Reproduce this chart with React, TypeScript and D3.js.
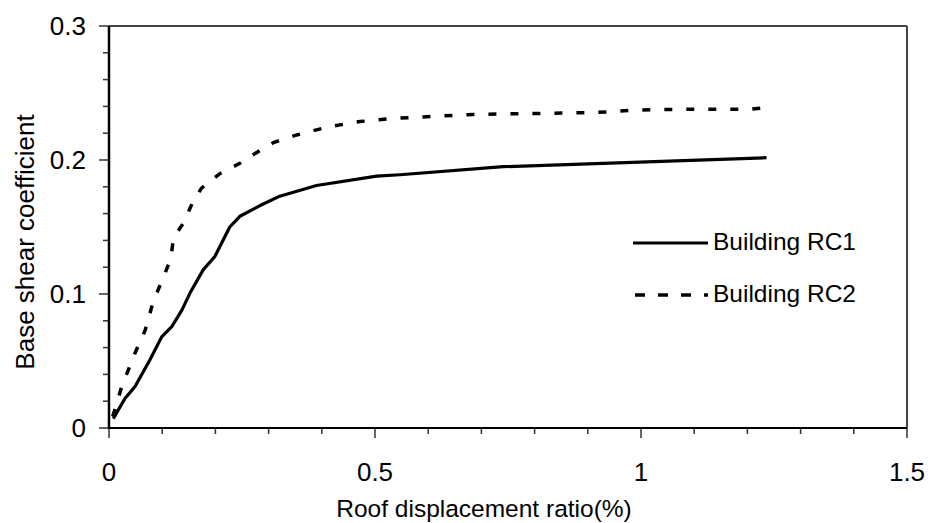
import React from "react";
import * as d3 from "d3";

// pushover curves
const rc1X = [0.008, 0.03, 0.049, 0.077, 0.099, 0.118, 0.137, 0.152, 0.177, 0.199, 0.227, 0.246, 0.284, 0.321, 0.39, 0.503, 0.547, 0.741, 1.236];
const rc1Y = [0.007, 0.022, 0.031, 0.051, 0.068, 0.0756, 0.088, 0.1005, 0.118, 0.128, 0.15, 0.158, 0.166, 0.173, 0.181, 0.188, 0.189, 0.195, 0.2017];

const rc2X = [0.007, 0.024, 0.049, 0.068, 0.083, 0.115, 0.118, 0.121, 0.14, 0.159, 0.174, 0.209, 0.246, 0.271, 0.309, 0.353, 0.415, 0.472, 0.534, 0.597, 0.685, 0.898, 0.942, 0.989, 1.073, 1.205, 1.249];
const rc2Y = [0.0085, 0.031, 0.056, 0.073, 0.094, 0.125, 0.1316, 0.1416, 0.153, 0.17, 0.179, 0.19, 0.1975, 0.204, 0.213, 0.2187, 0.225, 0.2287, 0.231, 0.2323, 0.234, 0.2353, 0.236, 0.2373, 0.2378, 0.2378, 0.2398];

const xMajor = [0, 0.5, 1, 1.5];
const xMajorLabels = ["0", "0.5", "1", "1.5"];
const yMajor = [0, 0.1, 0.2, 0.3];
const yMajorLabels = ["0", "0.1", "0.2", "0.3"];

const seriesNames = ["Building RC1", "Building RC2"];

const W = 928;
const H = 523;
const margin = {top: 26, right: 21, bottom: 95, left: 109};
const font = "Arial, 'Liberation Sans', sans-serif";
const fs = 26;
const fsSmall = 24.5;

const App = () => {
    const x = d3.scaleLinear().domain([0, 1.5]).range([margin.left, W - margin.right]);
    const y = d3.scaleLinear().domain([0, 0.3]).range([H - margin.bottom, margin.top]);

    const line = d3.line<[number, number]>()
        .x(d => x(d[0]))
        .y(d => y(d[1]));

    const rc1 = rc1X.map((v, i) => [v, rc1Y[i]] as [number, number]);
    const rc2 = rc2X.map((v, i) => [v, rc2Y[i]] as [number, number]);

    const xMinor = d3.range(0, 16).map(i => i / 10);
    const yMinor = d3.range(0, 16).map(i => i / 50);

    const x0 = x(0), x1 = x(1.5), y0 = y(0), y1 = y(0.3);

    return (
        <svg width={W} height={H} style={{position: "absolute", left: 0, top: 0, background: "#fff"}}
             fontFamily={font}>
            {/* frame */}
            <line x1={x0} x2={x1} y1={y1} y2={y1} stroke="#444" strokeWidth={2}/>
            <line x1={x1} x2={x1} y1={y1} y2={y0} stroke="#444" strokeWidth={2}/>

            {/* minor/major ticks */}
            {yMinor.map((t, i) => (
                <line key={"ym" + i} x1={x0 - (i % 5 === 0 ? 10 : 6)} x2={x0} y1={y(t)} y2={y(t)}
                      stroke="#333" strokeWidth={1.5}/>
            ))}
            {xMinor.map((t, i) => (
                <line key={"xm" + i} x1={x(t)} x2={x(t)} y1={y0} y2={y0 + (i % 5 === 0 ? 10 : 6)}
                      stroke="#333" strokeWidth={1.5}/>
            ))}

            {/* axes */}
            <line x1={x0} x2={x0} y1={y1} y2={y0 + 1} stroke="#000" strokeWidth={2.5}/>
            <line x1={x0 - 1} x2={x1} y1={y0} y2={y0} stroke="#000" strokeWidth={2}/>

            {/* tick labels */}
            {yMajor.map((t, i) => (
                <text key={"yl" + i} x={86} y={y(t) + 9} textAnchor="end" fontSize={fs}>
                    {yMajorLabels[i]}
                </text>
            ))}
            {xMajor.map((t, i) => (
                <text key={"xl" + i} x={x(t)} y={481} textAnchor="middle" fontSize={fs}>
                    {xMajorLabels[i]}
                </text>
            ))}

            {/* axis titles */}
            <text x={(x0 + x1) / 2 - 24} y={517} textAnchor="middle" fontSize={fsSmall}>
                Roof displacement ratio(%)
            </text>
            <text transform={`translate(34, ${(y0 + y1) / 2 + 15}) rotate(-90)`} textAnchor="middle" fontSize={fs}>
                Base shear coefficient
            </text>

            {/* curves */}
            <path d={line(rc1) || ""} fill="none" stroke="#000" strokeWidth={3.2} strokeLinejoin="round"/>
            <path d={line(rc2) || ""} fill="none" stroke="#000" strokeWidth={3.5} strokeDasharray="8,14"/>

            {/* legend */}
            <line x1={633} x2={708} y1={243} y2={243} stroke="#000" strokeWidth={3.2}/>
            <text x={713} y={250} fontSize={fsSmall}>{seriesNames[0]}</text>
            <line x1={635} x2={708} y1={295} y2={295} stroke="#000" strokeWidth={3.5} strokeDasharray="10,13"/>
            <text x={713} y={302} fontSize={fsSmall}>{seriesNames[1]}</text>
        </svg>
    );
};

export default App;
